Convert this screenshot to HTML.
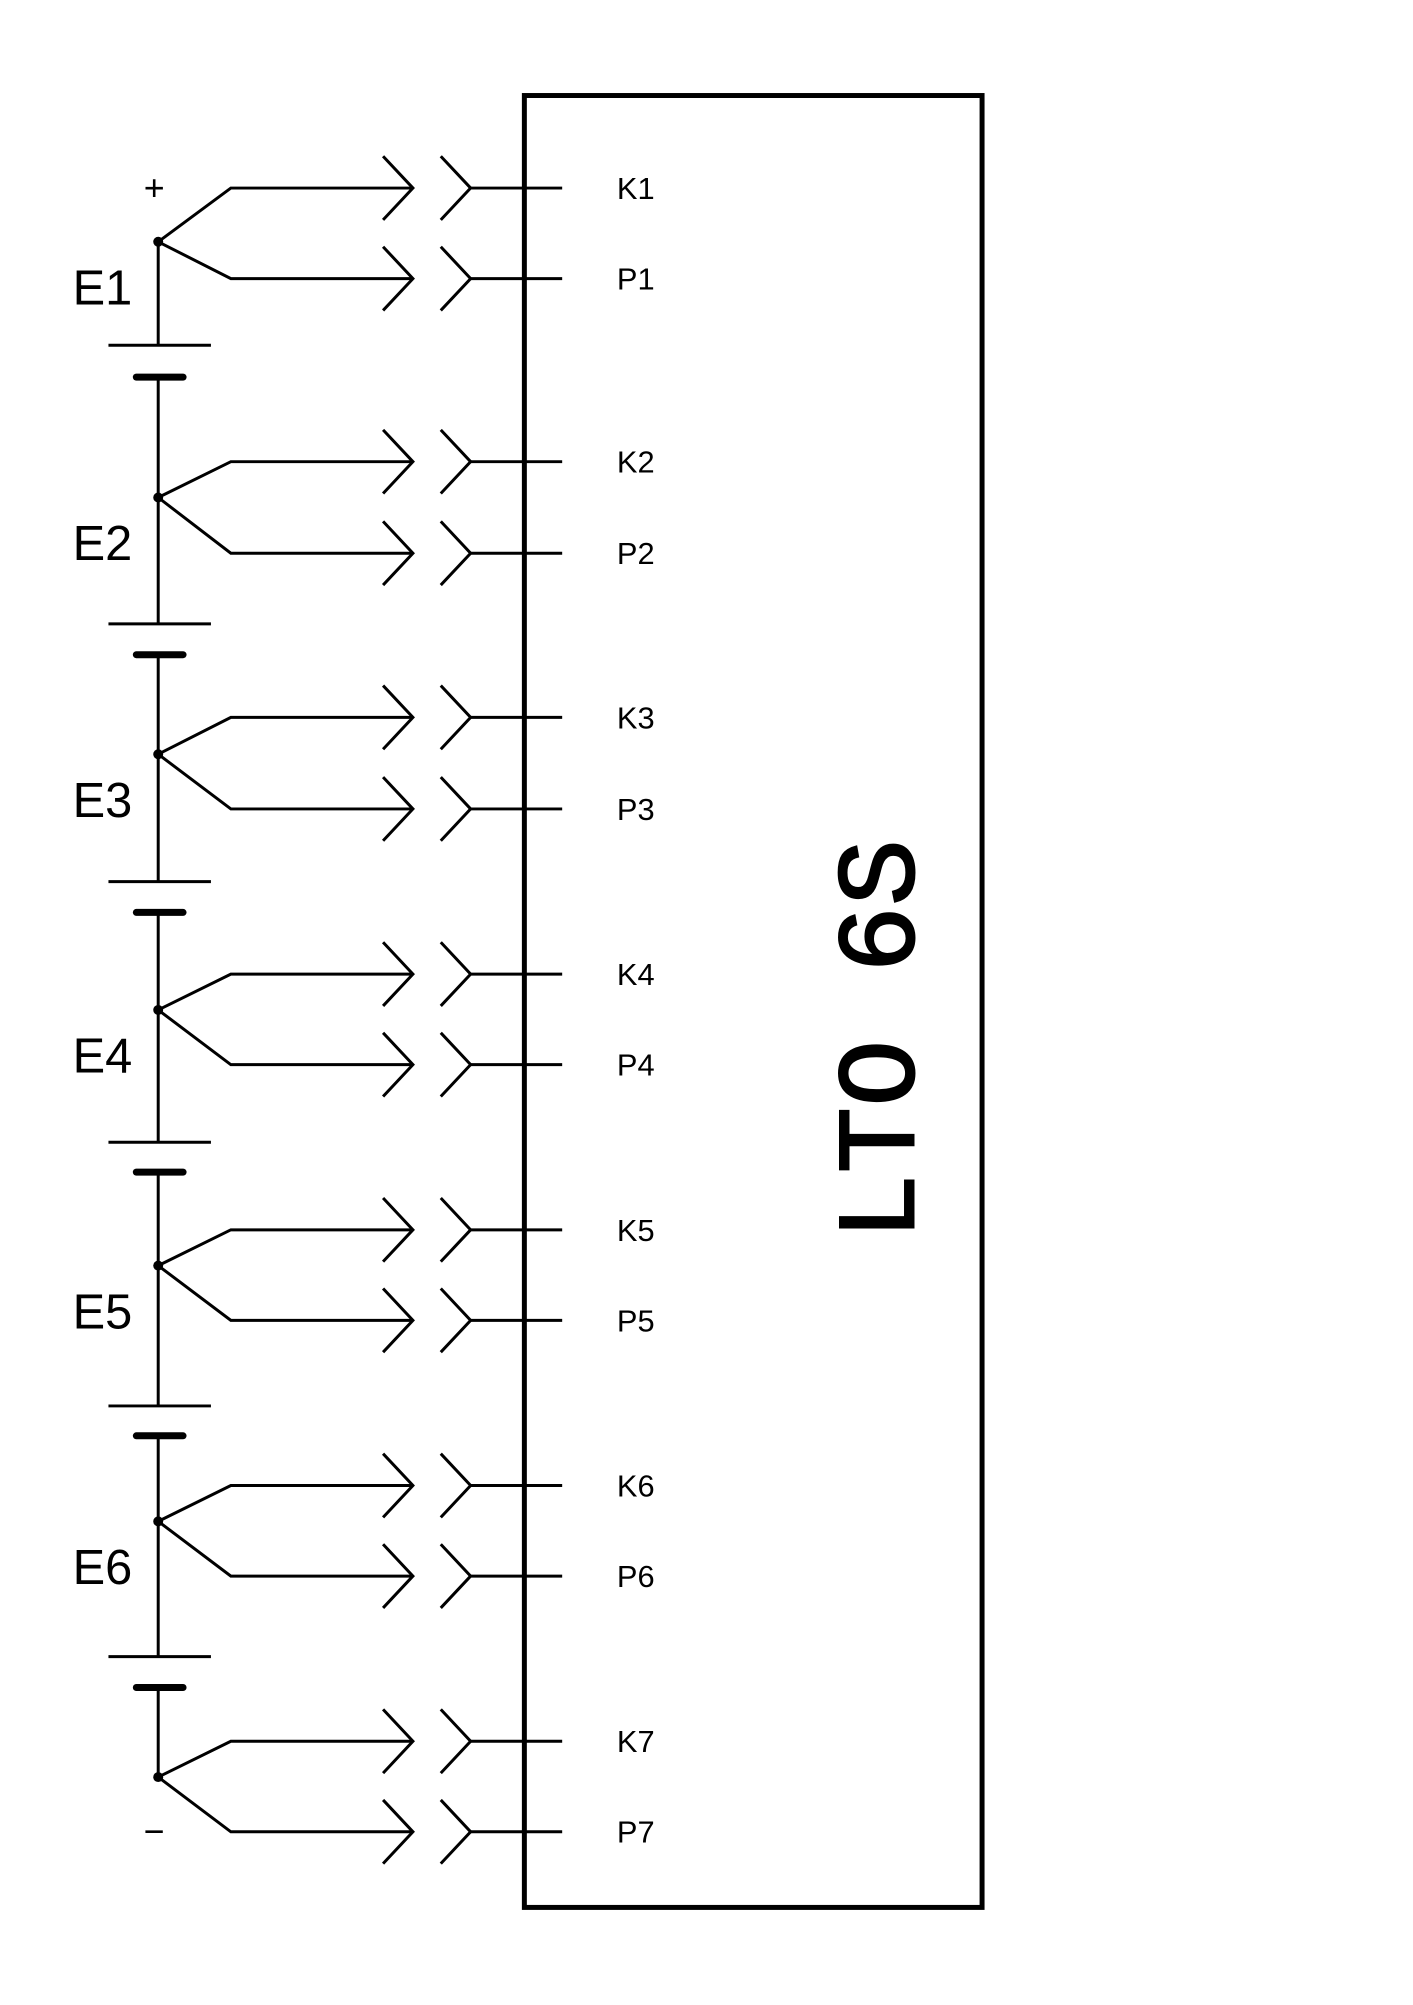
<!DOCTYPE html>
<html><head><style>html,body{margin:0;padding:0;background:#fff}</style></head>
<body>
<svg width="1413" height="2000" viewBox="0 0 1413 2000" xmlns="http://www.w3.org/2000/svg">
<rect width="1413" height="2000" fill="#fff"/>
<g transform="scale(0.995)">
<rect x="527" y="96" width="460" height="1821" fill="none" stroke="#000" stroke-width="5"/>
<g stroke="#000" stroke-width="3" fill="none" id="g">
</g>
<g font-family="Liberation Sans, sans-serif" fill="#000" id="t"></g>
<text x="155" y="201" font-family="Liberation Sans, sans-serif" font-size="36" text-anchor="middle">+</text>
<text x="155" y="1853" font-family="Liberation Sans, sans-serif" font-size="36" text-anchor="middle">−</text>
<text transform="translate(889,1045) rotate(-90)" x="0" y="0" font-family="Liberation Mono, monospace" font-size="112" text-anchor="middle" dominant-baseline="central" stroke="#000" stroke-width="2">LTO 6S</text>
</g>
<script>
const g=document.getElementById('g'),t=document.getElementById('t'),NS='http://www.w3.org/2000/svg';
function el(n,a,p){const e=document.createElementNS(NS,n);for(const k in a)e.setAttribute(k,a[k]);(p||g).appendChild(e);return e;}
const nodes=[243,500,758,1015,1272,1529,1786];
const K=[189,464,721,979,1236,1493,1750];
const P=[280,556,813,1070,1327,1584,1841];
const plates=[[347,379],[627,658],[886,917],[1148,1178],[1413,1443],[1665,1696]];
const x0=159;
for(let i=0;i<7;i++){
 const n=nodes[i];
 el('circle',{cx:x0,cy:n,r:5,fill:'#000',stroke:'none'});
 [[K[i],'K'+(i+1)],[P[i],'P'+(i+1)]].forEach(([y,l])=>{
  el('polyline',{points:`${x0},${n} 232,${y} 415,${y}`});
  el('polyline',{points:`385,${y-32} 415,${y} 385,${y+32}`});
  el('polyline',{points:`443,${y-32} 473,${y} 443,${y+32}`});
  el('line',{x1:473,y1:y,x2:565,y2:y});
  const tx=el('text',{x:620,y:y+11,'font-size':31},t);tx.textContent=l;
 });
 if(i<6){
  const top=i==0?n:plates[i-1][1];
  el('line',{x1:x0,y1:top,x2:x0,y2:plates[i][0]});
  el('line',{x1:109,y1:plates[i][0],x2:212,y2:plates[i][0]});
  el('line',{x1:137,y1:plates[i][1],x2:184,y2:plates[i][1],'stroke-width':7,'stroke-linecap':'round'});
  const e=el('text',{x:73,y:n+63,'font-size':49},t);e.textContent='E'+(i+1);
 }
}
el('line',{x1:x0,y1:plates[5][1],x2:x0,y2:nodes[6]});
</script>
</svg>
</body></html>
